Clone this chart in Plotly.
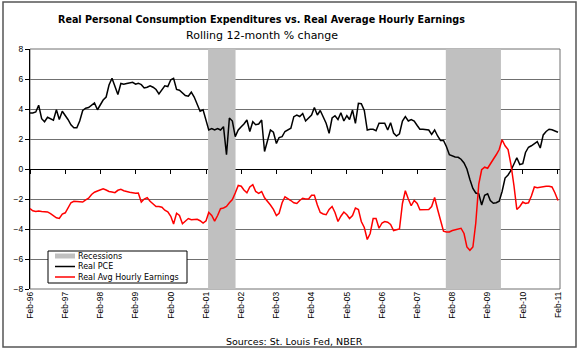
import pandas as pd
import plotly.graph_objects as go

# Monthly observations, Feb-1996 through Feb-2011
months = pd.date_range("1996-02-01", "2011-02-01", freq="MS")

real_pce = [
    3.74, 3.74, 3.8, 4.25, 3.35, 3.15, 3.45, 3.35, 3.25, 3.95, 3.3, 3.85,
    3.6, 3.3, 2.95, 2.75, 2.75, 3.2, 3.9, 4.05, 4.1, 4.25, 4.4, 3.95,
    4.35, 4.6, 4.8, 5.6, 6.05, 5.5, 4.97, 5.7, 5.65, 5.7, 5.75, 5.78,
    5.65, 5.72, 5.62, 5.4, 5.45, 5.55, 5.45, 5.3, 5.0, 5.3, 5.55, 5.5,
    5.95, 6.05, 5.3, 5.25, 5.1, 4.9, 4.85, 5.12, 4.8, 4.3, 3.85, 3.95,
    3.25, 2.6, 2.7, 2.6, 2.7, 2.6, 2.82, 0.95, 3.4, 3.2, 2.16, 2.6,
    2.82, 3.0, 3.27, 2.5, 3.15, 2.95, 3.0, 3.27, 1.17, 1.9, 2.6, 2.45,
    1.7, 2.1, 2.16, 2.5, 2.6, 2.72, 3.49, 3.6, 3.5, 3.7, 3.2, 3.4,
    3.6, 4.1, 3.6, 3.9, 3.45, 3.05, 2.38, 3.4, 3.55, 3.3, 3.75, 3.2,
    3.55, 3.3, 3.93, 3.04, 4.38, 4.35, 3.9, 2.6, 2.65, 2.65, 2.55, 3.05,
    3.05, 3.05, 2.6, 3.09, 2.4, 2.2, 2.35, 3.2, 3.49, 3.2, 3.3, 3.2,
    2.9, 2.65, 2.65, 2.65, 2.6, 2.3, 2.6, 2.2, 1.9, 1.9, 1.5, 0.95,
    0.85, 0.8, 0.78, 0.65, 0.4, 0.0, -0.7, -1.3, -1.6, -1.65, -2.4, -1.75,
    -1.65, -2.1, -2.28, -2.25, -2.15, -1.5, -0.6, -0.4, -0.1, 0.3, 0.75, 0.3,
    0.35, 1.1, 1.45, 1.55, 1.7, 1.83, 1.4, 2.27, 2.5, 2.65, 2.62, 2.55,
    2.45,
]

real_ahe = [
    -2.64, -2.79, -2.84, -2.8, -2.84, -2.85, -2.86, -2.98, -3.1, -3.25, -3.3, -3.0,
    -2.92, -2.6, -2.25, -2.15, -2.15, -2.15, -2.2, -2.06, -1.95, -1.7, -1.55, -1.47,
    -1.38, -1.32, -1.4, -1.5, -1.54, -1.58, -1.42, -1.36, -1.45, -1.52, -1.55, -1.58,
    -1.62, -1.6, -2.2, -2.0, -1.91, -2.15, -2.35, -2.5, -2.5, -2.55, -2.75, -2.85,
    -3.15, -3.67, -2.95, -3.1, -3.65, -3.45, -3.3, -3.38, -3.38, -3.35, -3.45, -3.6,
    -3.45, -2.9, -3.1, -3.47, -3.1, -2.65, -2.6, -2.5, -2.25, -2.04, -1.6, -1.1,
    -1.15, -1.4, -1.59, -1.2, -1.04, -1.5, -1.63, -1.5, -1.92, -2.15, -2.4, -2.69,
    -3.1, -2.95, -2.25, -1.85, -1.95, -2.1, -2.25, -2.3, -2.1, -1.95, -2.0, -2.0,
    -1.75, -1.75, -2.4, -2.9, -3.0, -3.05, -2.7, -2.5, -2.9, -3.5, -3.15, -2.87,
    -3.05, -3.3, -3.1, -2.6, -2.7, -3.5, -3.9, -4.7, -4.3, -3.3, -3.3, -3.95,
    -3.6, -3.5, -3.55, -3.7, -4.1, -4.05, -4.0, -2.3, -1.45, -2.0, -2.45, -2.1,
    -2.3, -2.72, -2.72, -2.72, -2.7, -2.5, -1.9, -2.7, -3.4, -4.15, -4.2, -4.2,
    -4.1, -4.05, -3.95, -3.95, -4.3, -5.2, -5.42, -5.2, -3.6, -1.0, -0.05, 0.12,
    0.05, 0.3, 0.65, 0.95, 1.3, 1.95, 1.55, 1.3, 0.3, -1.1, -2.7, -2.5,
    -2.2, -2.3, -2.25, -1.8, -1.2, -1.25, -1.2, -1.15, -1.15, -1.15, -1.2, -1.6,
    -2.1,
]

# NBER recession periods (shaded bands)
recession_start = ["2001-02-22", "2007-11-25"]
recession_end = ["2001-12-04", "2009-06-19"]

series_names = ["Recessions", "Real PCE", "Real Avg Hourly Earnings"]
series_colors = ["#c0c0c0", "#000000", "#ff0000"]

y_min, y_max = -8, 8
y_ticks = [-8, -6, -4, -2, 0, 2, 4, 6, 8]
x_range = ["1996-02-01", "2011-02-22"]

FONT = "Liberation Sans, Arial, sans-serif"
GRID = "#707070"

# plot area in pixels: left 30, right 560, top 49, bottom 289
PX_L, PX_W, PX_B, PX_H = 30, 530, 289, 240


def px(x):
    return (x - PX_L) / PX_W


def py(y):
    return (PX_B - y) / PX_H


# Build recession rectangles as one filled trace
rx, ry = [], []
for s, e in zip(recession_start, recession_end):
    rx += [s, s, e, e, s, None]
    ry += [y_min, y_max, y_max, y_min, y_min, None]

fig = go.Figure()
fig.add_trace(go.Scatter(
    x=rx, y=ry, mode="lines", fill="toself", fillcolor=series_colors[0],
    line=dict(width=0, color=series_colors[0]), name=series_names[0],
    hoverinfo="skip",
))
fig.add_trace(go.Scatter(
    x=months, y=real_pce, mode="lines", name=series_names[1],
    line=dict(color=series_colors[1], width=1.5),
))
fig.add_trace(go.Scatter(
    x=months, y=real_ahe, mode="lines", name=series_names[2],
    line=dict(color=series_colors[2], width=1.5),
))
# invisible trace on the crossing axis so it renders ticks at zero
fig.add_trace(go.Scatter(
    x=[months[0]], y=[0], xaxis="x2", mode="markers",
    marker=dict(opacity=0), hoverinfo="skip",
))

# Compact legend box drawn with shapes and text
legend_shapes = [
    dict(type="rect", xref="paper", yref="paper",
         x0=px(48), x1=px(187), y0=py(283), y1=py(251),
         fillcolor="white", line=dict(color="black", width=1), layer="above"),
]
legend_notes = []
row_y = [256, 266.5, 277]
for i, (name, col) in enumerate(zip(series_names, series_colors)):
    yy = py(row_y[i])
    if i == 0:
        legend_shapes.append(dict(
            type="rect", xref="paper", yref="paper",
            x0=px(55), x1=px(75), y0=py(row_y[i] + 2.5), y1=py(row_y[i] - 2.5),
            fillcolor=col, line=dict(width=0), layer="above"))
    else:
        legend_shapes.append(dict(
            type="line", xref="paper", yref="paper",
            x0=px(55), x1=px(75), y0=yy, y1=yy,
            line=dict(color=col, width=1.5), layer="above"))
    legend_notes.append(dict(
        text=name, xref="paper", yref="paper", x=px(76), y=yy,
        xanchor="left", yanchor="middle", showarrow=False,
        font=dict(family="DejaVu Sans, sans-serif", size=8, color="black")))

fig.update_layout(
    width=580, height=349,
    margin=dict(l=30, r=20, t=49, b=60),
    paper_bgcolor="white", plot_bgcolor="white",
    font=dict(family=FONT, size=8, color="black"),
    showlegend=False,
    xaxis=dict(
        type="date", range=x_range,
        tick0="1996-02-01", dtick="M12", tickformat="%b-%y",
        tickangle=-90, ticks="", showgrid=False, showline=False,
        zeroline=False, tickfont=dict(family=FONT, size=8.5),
    ),
    xaxis2=dict(
        type="date", range=x_range, overlaying="x", anchor="free",
        position=0.5, side="bottom",
        tick0="1996-02-01", dtick="M12", ticks="outside", ticklen=4,
        tickcolor="black", tickwidth=1, showticklabels=False,
        showgrid=False, showline=True, linecolor="black", linewidth=1,
        zeroline=False, layer="below traces",
    ),
    yaxis=dict(
        range=[y_min, y_max], tickvals=y_ticks,
        showgrid=True, gridcolor=GRID, gridwidth=1,
        zeroline=False, showline=True, linecolor="black", linewidth=1,
        ticks="outside", ticklen=4, tickcolor="black",
        tickfont=dict(family=FONT, size=8.5),
    ),
    shapes=[
        # plot area frame
        dict(type="rect", xref="paper", yref="paper", x0=0, x1=1, y0=0, y1=1,
             line=dict(color=GRID, width=1), layer="below"),
        # outer chart border
        dict(type="rect", xref="paper", yref="paper",
             x0=px(3), x1=px(576), y0=py(347), y1=py(2),
             line=dict(color="#555555", width=1.5)),
    ] + legend_shapes,
    annotations=[
        dict(text="<b>Real Personal Consumption Expenditures vs. Real Average Hourly Earnings</b>",
             xref="paper", yref="paper", x=px(261.5), y=py(19), showarrow=False,
             xanchor="center", yanchor="middle",
             font=dict(family="DejaVu Sans, sans-serif", size=9.6, color="black")),
        dict(text="Rolling 12-month % change",
             xref="paper", yref="paper", x=px(261.5), y=py(35), showarrow=False,
             xanchor="center", yanchor="middle",
             font=dict(family="DejaVu Sans, sans-serif", size=11, color="black")),
        dict(text="Sources: St. Louis Fed, NBER",
             xref="paper", yref="paper", x=px(294.5), y=py(341), showarrow=False,
             xanchor="center", yanchor="middle",
             font=dict(family="DejaVu Sans, sans-serif", size=9.5, color="black")),
    ] + legend_notes,
)

fig.write_html("out.html")
